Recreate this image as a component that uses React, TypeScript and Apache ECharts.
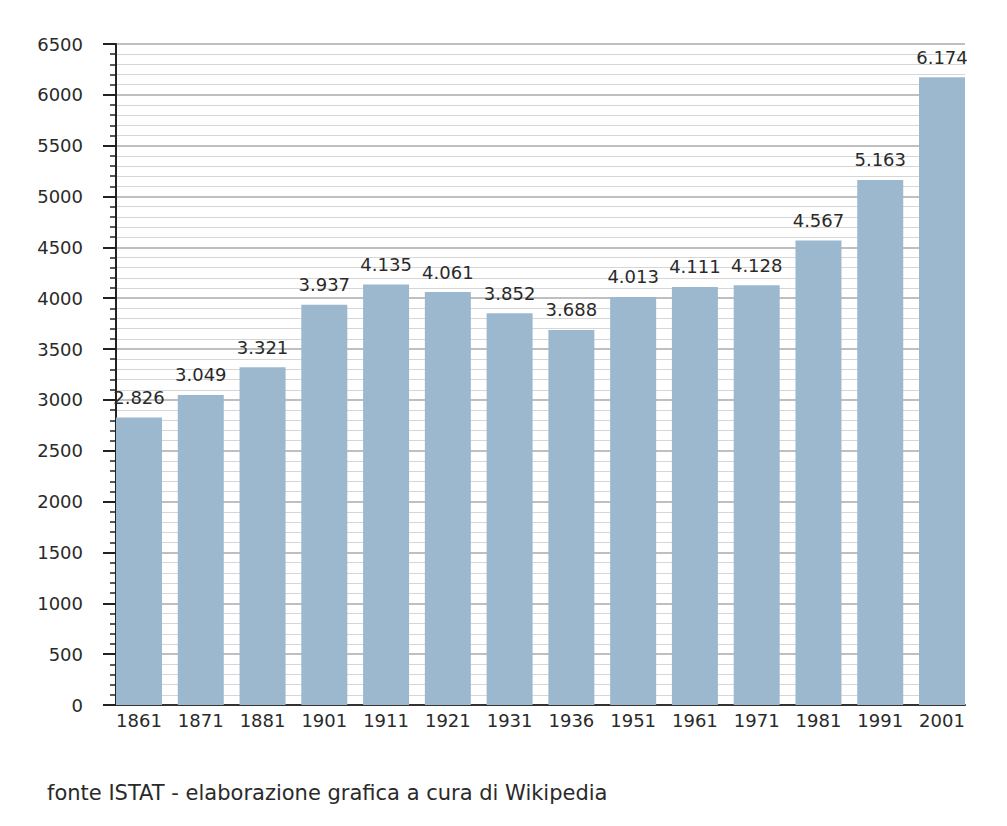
import React, { useEffect, useRef } from "react";
import * as echarts from "echarts";

const years = ["1861", "1871", "1881", "1901", "1911", "1921", "1931", "1936", "1951", "1961", "1971", "1981", "1991", "2001"];
const population = [2826, 3049, 3321, 3937, 4135, 4061, 3852, 3688, 4013, 4111, 4128, 4567, 5163, 6174];
const yMin = 0;
const yMax = 6500;
const yStep = 500;
const footnote = "fonte ISTAT - elaborazione grafica a cura di Wikipedia";

const FONT = "'DejaVu Sans', sans-serif";
const TEXT = "#2a2a2a";

export default function App() {
  const ref = useRef<HTMLDivElement>(null);
  useEffect(() => {
    if (!ref.current) return;
    const chart = echarts.init(ref.current, null, { renderer: "svg" });
    const left = 116;
    const right = 42;
    const top = 44;
    const bottom = 121;
    const barW = 46;
    const half = barW / 2;
    chart.setOption({
      animation: false,
      backgroundColor: "#ffffff",
      grid: [
        { left: left, right: right, top: top, bottom: bottom, containLabel: false },
        { left: left + half, right: right + half, top: top, bottom: bottom, containLabel: false },
      ],
      xAxis: [
        {
          gridIndex: 0,
          type: "value",
          min: 0,
          max: 1,
          axisLine: { show: true, lineStyle: { color: "#333", width: 2 } },
          axisTick: { show: false },
          axisLabel: { show: false },
          splitLine: { show: false },
        },
        {
          gridIndex: 1,
          type: "category",
          data: years,
          boundaryGap: false,
          axisLine: { show: false },
          axisTick: { show: false },
          splitLine: { show: false },
          axisLabel: {
            interval: 0,
            color: TEXT,
            fontFamily: FONT,
            fontSize: 18,
            margin: 6,
          },
        },
      ],
      yAxis: [
        {
          gridIndex: 0,
          type: "value",
          min: yMin,
          max: yMax,
          interval: yStep,
          axisLine: { show: true, lineStyle: { color: "#222", width: 2 } },
          axisTick: { show: true, length: 13, lineStyle: { color: "#222", width: 2 } },
          minorTick: { show: true, splitNumber: 5, length: 6, lineStyle: { color: "#222", width: 1.5 } },
          axisLabel: {
            color: TEXT,
            fontFamily: FONT,
            fontSize: 18,
            margin: 33,
            formatter: (v: number) => String(v),
          },
          splitLine: { show: true, lineStyle: { color: "#aaaaaa", width: 1.5 } },
          minorSplitLine: { show: true, lineStyle: { color: "#d6d6d6", width: 1 } },
        },
        {
          gridIndex: 1,
          type: "value",
          min: yMin,
          max: yMax,
          interval: yStep,
          show: false,
          splitLine: { show: false },
        },
      ],
      series: [
        {
          type: "bar",
          xAxisIndex: 1,
          yAxisIndex: 1,
          data: population,
          barWidth: barW,
          itemStyle: { color: "#9cb8cf" },
          label: {
            show: true,
            position: "top",
            distance: 11,
            color: TEXT,
            fontFamily: FONT,
            fontSize: 18,
            formatter: (p: any) => {
              const v = p.value as number;
              const th = Math.floor(v / 1000);
              const rest = String(v % 1000).padStart(3, "0");
              return th + "." + rest;
            },
          },
          z: 3,
        },
      ],
      graphic: [
        {
          type: "text",
          left: 47,
          top: 782,
          style: { text: footnote, fill: TEXT, font: "21px " + FONT },
        },
      ],
    });
    return () => chart.dispose();
  }, []);
  return <div ref={ref} style={{ width: 1007, height: 826, position: "absolute", left: 0, top: 0 }} />;
}
